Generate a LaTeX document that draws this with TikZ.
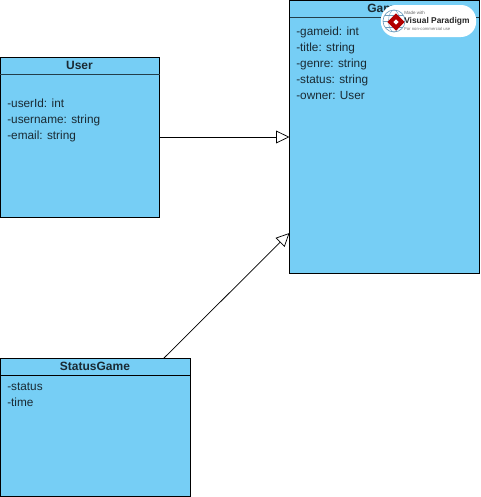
\documentclass[tikz,border=0pt]{standalone}
\usepackage{fontspec}
\setmainfont{Liberation Sans}
\usetikzlibrary{arrows.meta,positioning,shapes.geometric}
\definecolor{umlfill}{HTML}{76CEF5}
\definecolor{txt}{HTML}{1A2A33}
\definecolor{globe}{HTML}{6F9FBF}
\tikzset{
  x=0.75pt,y=-0.75pt,
  classbox/.style={draw=black,fill=umlfill,line width=0.7pt,inner sep=0pt,outer sep=0pt,anchor=north west},
  classtitle/.style={font=\fontsize{9pt}{11pt}\selectfont\bfseries,text=txt,inner sep=0pt,anchor=center},
  attrs/.style={font=\fontsize{8.85pt}{12pt}\selectfont,text=txt,align=left,inner sep=0pt,anchor=north west},
  generalize/.style={draw=black,line width=0.55pt,-{Triangle[open,fill=white,length=10pt,width=9.5pt]}}
}
\begin{document}
\begin{tikzpicture}
\useasboundingbox (0,0) rectangle (480,497);
% User
\node[classbox,minimum width=119.25pt,minimum height=120pt] (user) at (0,57) {};
\coordinate (userdivl) at (0,74);
\coordinate (userdivr) at (159.5,74);
\draw[line width=0.7pt,draw=black!70!umlfill] (userdivl) -- (userdivr);
\node[classtitle] (usert) at (79.5,65) {User};
\node[attrs] (usera) at (7,98.5) {-userId: int\\-username: string\\-email: string};
% Game
\node[classbox,minimum width=142.1pt,minimum height=205pt] (game) at (289.5,0) {};
\coordinate (gamedivl) at (289.5,17);
\coordinate (gamedivr) at (479,17);
\draw[line width=0.7pt,draw=black!70!umlfill] (gamedivl) -- (gamedivr);
\node[classtitle] (gamet) at (384,8) {Game};
\node[attrs] (gamea) at (296,26.5) {-gameid: int\\-title: string\\-genre: string\\-status: string\\-owner: User};
% StatusGame
\node[classbox,minimum width=142.5pt,minimum height=104pt] (status) at (0,358) {};
\coordinate (statusdivl) at (0,375);
\coordinate (statusdivr) at (190,375);
\draw[line width=0.7pt,draw=black] (statusdivl) -- (statusdivr);
\node[classtitle] (statust) at (95,366) {StatusGame};
\node[attrs] (statusa) at (7,383) {-status\\-time};
% Connectors
\coordinate (ua) at (159.5,137);
\coordinate (ga) at (289.5,137);
\coordinate (sa) at (164,358);
\coordinate (gb) at (289.5,233);
\draw[generalize] (ua) -- (ga);
\draw[generalize] (sa) -- (gb);
% Watermark
\node[fill=white,rounded corners=11.5pt,minimum width=71.5pt,minimum height=24pt,inner sep=0pt] (wm) at (428.5,21) {};
\node[circle,draw=globe,fill=white,line width=0.5pt,minimum size=16.5pt,inner sep=0pt] (wmc) at (394,21) {};
\draw[globe,line width=0.3pt] (394,21) ellipse (5.5 and 11);
\draw[globe,line width=0.3pt] (383,21) -- (405,21);
\draw[globe,line width=0.3pt] (385,15) -- (403,15);
\draw[globe,line width=0.3pt] (385,27) -- (403,27);
\node[diamond,fill=red!70!black,minimum size=13pt,inner sep=0pt,aspect=1] (wmd) at (396,22) {};
\node[diamond,fill=white,minimum size=4pt,inner sep=0pt,aspect=1] (wmd2) at (396,22) {};
\node[font=\fontsize{3.4pt}{4pt}\selectfont,text=black!60,anchor=west,inner sep=0pt] (wm1) at (404,13) {Made with};
\node[font=\fontsize{6.3pt}{8pt}\selectfont\bfseries,text=black!85,anchor=west,inner sep=0pt] (wm2) at (404,21) {Visual Paradigm};
\node[font=\fontsize{3.2pt}{4pt}\selectfont,text=black!55,anchor=west,inner sep=0pt] (wm3) at (404,29) {For non-commercial use};
\end{tikzpicture}
\end{document}
